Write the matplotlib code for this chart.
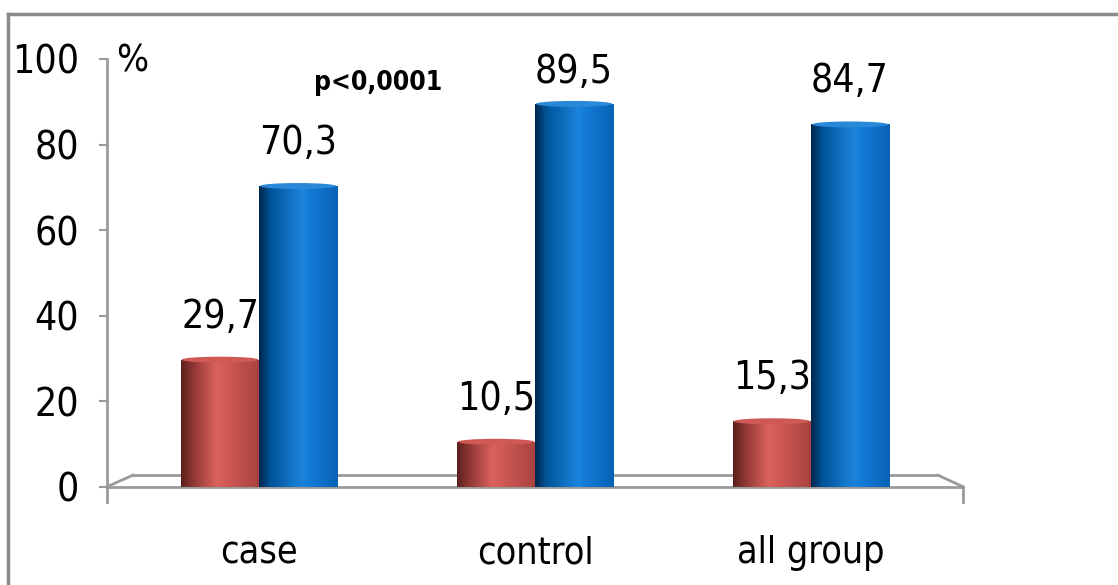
import matplotlib.pyplot as plt
import numpy as np
from matplotlib import font_manager as fm
from matplotlib.colors import LinearSegmentedColormap
from matplotlib.patches import Ellipse
from matplotlib.lines import Line2D

groups = ['case', 'control', 'all group']
red_vals = [29.7, 10.5, 15.3]
blue_vals = [70.3, 89.5, 84.7]
red_labels = ['29,7', '10,5', '15,3']
blue_labels = ['70,3', '89,5', '84,7']
yticks = [0, 20, 40, 60, 80, 100]
p_text = 'p<0,0001'

# prefer a narrow sans face if one is available
fonts = fm.fontManager.ttflist
names = {f.name for f in fonts}
stretch = 'normal'
if 'Liberation Sans Narrow' in names:
    family = 'Liberation Sans Narrow'
elif any(f.name == 'DejaVu Sans' and f.stretch in ('condensed', 600) for f in fonts):
    family, stretch = 'DejaVu Sans', 'condensed'
else:
    family = 'Liberation Sans'
plt.rcParams['font.family'] = [family, 'DejaVu Sans']
plt.rcParams['font.stretch'] = stretch

W, H = 1118, 585
fig = plt.figure(figsize=(W / 100, H / 100), dpi=100)
ax = fig.add_axes([107 / W, 98.3 / H, 856 / W, 427.7 / H])
for s in ax.spines.values():
    s.set_visible(False)

x = np.arange(len(groups))
w = 0.283
gray = '#9a9a9a'

red_cmap = LinearSegmentedColormap.from_list(
    'red_cyl', [(0, '#5a201e'), (0.15, '#8f3633'), (0.45, '#da625d'),
                (0.55, '#d25b56'), (1, '#a8423f')])
blue_cmap = LinearSegmentedColormap.from_list(
    'blue_cyl', [(0, '#00264d'), (0.15, '#00559a'), (0.55, '#1c84dd'),
                 (0.65, '#137ad4'), (1, '#0862b6')])
grad = np.linspace(0, 1, 256).reshape(1, -1)


def cylinders(xs, vals, cmap, cap):
    bars = ax.bar(xs, vals, width=w, color='none', edgecolor='none', zorder=3)
    for b, v in zip(bars, vals):
        x0 = b.get_x()
        x1 = x0 + b.get_width()
        im = ax.imshow(grad, cmap=cmap, extent=[x0, x1, 0, v], aspect='auto',
                       interpolation='bilinear', zorder=3)
        im.set_clip_path(b)
        ax.add_patch(Ellipse((x0 + w / 2, v), w * 0.98, 1.4, facecolor=cap,
                             edgecolor='none', zorder=4))
    return bars


red_bars = cylinders(x - w / 2, red_vals, red_cmap, '#cf5a55')
blue_bars = cylinders(x + w / 2, blue_vals, blue_cmap, '#2a88d8')

# floor of the 3d plot area
xl, xr = -0.551, 2.551
bl, br, back = -0.457, 2.46, 2.7
ax.plot([xl, xr], [0, 0], color=gray, lw=2, zorder=2, clip_on=False)
ax.plot([bl, br], [back, back], color=gray, lw=2, zorder=2, clip_on=False)
ax.plot([xl, bl], [0, back], color=gray, lw=2, zorder=2, clip_on=False)
ax.plot([br, xr], [back, 0], color=gray, lw=2, zorder=2, clip_on=False)
ax.plot([xr, xr], [0, -3.6], color=gray, lw=2, zorder=2, clip_on=False)
ax.plot([xl, xl], [-3.6, 100], color=gray, lw=2, zorder=2, clip_on=False)

ax.set_xlim(xl, xr)
ax.set_ylim(0, 100)
ax.set_yticks(yticks)
ax.tick_params(axis='y', length=6, width=1.5, color=gray, pad=14, labelsize=28)
ax.set_xticks(x, groups)
ax.tick_params(axis='x', length=0, pad=35, labelsize=27)

for bars, vals, labels in [(red_bars, red_vals, red_labels),
                           (blue_bars, blue_vals, blue_labels)]:
    for b, v, lab in zip(bars, vals, labels):
        ax.text(b.get_x() + w / 2, min(v + 7.5, 94.5), lab, ha='center',
                va='baseline', fontsize=28, zorder=5)

ax.text(-0.46, 99.5, '%', ha='center', va='center', fontsize=27)
ax.text(0.431, 92.7, p_text, ha='center', va='baseline', fontsize=19,
        fontweight='bold')

# frame around the chart
fig.add_artist(Line2D([8 / W, 1], [1 - 14 / H, 1 - 14 / H], color='#8a8a8a', lw=2.5))
fig.add_artist(Line2D([8 / W, 8 / W], [0, 1 - 14 / H], color='#8a8a8a', lw=2.5))

fig.savefig('out.png', dpi=100)
